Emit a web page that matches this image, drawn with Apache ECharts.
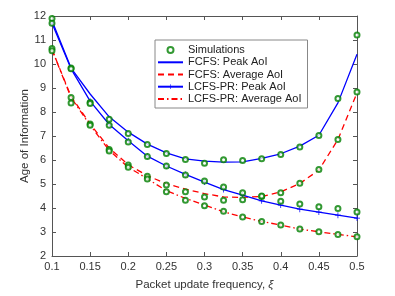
<!DOCTYPE html>
<html><head><meta charset="utf-8">
<script src="https://cdn.jsdelivr.net/npm/echarts@6/dist/echarts.min.js"></script>
<style>html,body{margin:0;padding:0;background:#fff}#c{width:395px;height:296px}</style>
</head><body><div id="c"></div>
<script>
const xs = [0.1,0.125,0.15,0.175,0.2,0.225,0.25,0.275,0.3,0.325,0.35,0.375,0.4,0.425,0.45,0.475,0.5];
const fcfsPeak = [11.8,9.83,8.75,7.8,7.16,6.66,6.3,6.05,5.95,5.91,5.92,6.07,6.26,6.58,7.03,8.38,10.41];
const lcfsPeak = [11.7,9.8,8.45,7.48,6.8,6.16,5.75,5.4,5.08,4.77,4.54,4.3,4.12,3.95,3.83,3.70,3.58];
const fcfsAvg = [10.6,8.65,7.5,6.5,5.8,5.35,5.01,4.79,4.6,4.46,4.44,4.48,4.67,5.02,5.58,6.85,8.8];
const lcfsAvg = [10.6,8.6,7.45,6.4,5.7,5.22,4.72,4.4,4.12,3.84,3.63,3.44,3.29,3.12,3.01,2.9,2.8];
const simFcfsPeak = [11.9,9.83,8.4,7.7,7.1,6.65,6.27,6.02,5.86,6.01,5.98,6.05,6.23,6.54,7.02,8.56,11.21];
const simLcfsPeak = [11.7,9.8,8.35,7.45,6.75,6.15,5.75,5.38,5.12,4.88,4.64,4.48,4.28,4.17,4.05,3.98,3.83];
const simFcfsAvg = [10.65,8.6,7.5,6.44,5.79,5.32,4.96,4.68,4.46,4.32,4.34,4.5,4.64,5.03,5.6,6.85,8.83];
const simLcfsAvg = [10.55,8.38,7.45,6.37,5.7,5.21,4.68,4.32,4.09,3.86,3.62,3.44,3.29,3.12,3.01,2.9,2.8];
const xTicks = ['0.1','0.15','0.2','0.25','0.3','0.35','0.4','0.45','0.5'];

const pair = a => xs.map((x,i)=>[x,a[i]]);
const blue = '#0000ff', red = '#ff0000', green = '#008000';
const plus = 'path://M4.4,0h1.2v4.4h4.4v1.2h-4.4v4.4h-1.2v-4.4h-4.4v-1.2h4.4z';
const axisCol = '#555';
const font = 'Liberation Sans, Arial, sans-serif';

const simSeries = [simFcfsPeak, simLcfsPeak, simFcfsAvg, simLcfsAvg].map(a => ({
  name:'Simulations', type:'scatter', data:pair(a), symbol:'emptyCircle', symbolSize:5,
  itemStyle:{color:green, borderColor:green, borderWidth:1.3}, z:5
}));

const chart = echarts.init(document.getElementById('c'), null, {renderer:'canvas'});
chart.setOption({
  animation:false,
  textStyle:{fontFamily:font},
  grid:{left:52, right:38, top:16, bottom:39},
  legend:{
    orient:'vertical', left:155, top:40, padding:[4,6,3,2],
    backgroundColor:'#fff', borderColor:'#888', borderWidth:1, borderRadius:0,
    itemWidth:25, itemHeight:6, itemGap:0,
    textStyle:{fontSize:11, lineHeight:12.2, color:'#222', fontFamily:font},
    data:[
      {name:'Simulations'},
      {name:'FCFS: Peak AoI', itemStyle:{opacity:0}},
      {name:'FCFS: Average AoI', itemStyle:{opacity:0}},
      {name:'LCFS-PR: Peak AoI'},
      {name:'LCFS-PR: Average AoI', itemStyle:{opacity:0}}
    ]
  },
  xAxis:[{
    type:'value', min:0.1, max:0.5, interval:0.05, position:'bottom',
    name:'Packet update frequency, {i|ξ}', nameLocation:'middle', nameGap:23, nameMoveOverlap:false,
    nameTextStyle:{fontSize:11.5, color:'#333', rich:{i:{fontStyle:'italic', fontSize:11.5, color:'#333'}}},
    axisLine:{lineStyle:{color:axisCol}}, axisTick:{inside:true, length:4, lineStyle:{color:axisCol}},
    axisLabel:{fontSize:11, color:'#333', margin:5, formatter:(v)=>{const s=xTicks.find(t=>Math.abs(parseFloat(t)-v)<1e-9);return s||'';}},
    splitLine:{show:false}
  },{
    type:'value', min:0.1, max:0.5, interval:0.05, position:'top',
    axisLine:{lineStyle:{color:axisCol}}, axisTick:{inside:true, length:4, lineStyle:{color:axisCol}},
    axisLabel:{show:false}, splitLine:{show:false}
  }],
  yAxis:[{
    type:'value', min:2, max:12, interval:1, position:'left',
    name:'Age of Information', nameLocation:'middle', nameGap:21, nameMoveOverlap:false,
    nameTextStyle:{fontSize:11.5, color:'#333'},
    axisLine:{show:true, lineStyle:{color:axisCol}}, axisTick:{show:true, inside:true, length:4, lineStyle:{color:axisCol}},
    axisLabel:{fontSize:11, color:'#333', margin:6}, splitLine:{show:false}
  },{
    type:'value', min:2, max:12, interval:1, position:'right',
    axisLine:{show:true, lineStyle:{color:axisCol}}, axisTick:{show:true, inside:true, length:4, lineStyle:{color:axisCol}},
    axisLabel:{show:false}, splitLine:{show:false}
  }],
  series:[
    simSeries[0],
    {name:'FCFS: Peak AoI', type:'line', data:pair(fcfsPeak), symbol:'none',
      lineStyle:{color:blue, width:1.3}, itemStyle:{color:blue}},
    {name:'FCFS: Average AoI', type:'line', data:pair(fcfsAvg), symbol:'none',
      lineStyle:{color:red, width:1.3, type:[6,4]}, itemStyle:{color:red}},
    {name:'LCFS-PR: Peak AoI', type:'line', data:pair(lcfsPeak), symbol:plus, symbolSize:6,
      lineStyle:{color:blue, width:1.3}, itemStyle:{color:blue}},
    {name:'LCFS-PR: Average AoI', type:'line', data:pair(lcfsAvg), symbol:'none',
      lineStyle:{color:red, width:1.3, type:[6,3,1.5,3]}, itemStyle:{color:red}},
    simSeries[1], simSeries[2], simSeries[3]
  ]
});
</script></body></html>
